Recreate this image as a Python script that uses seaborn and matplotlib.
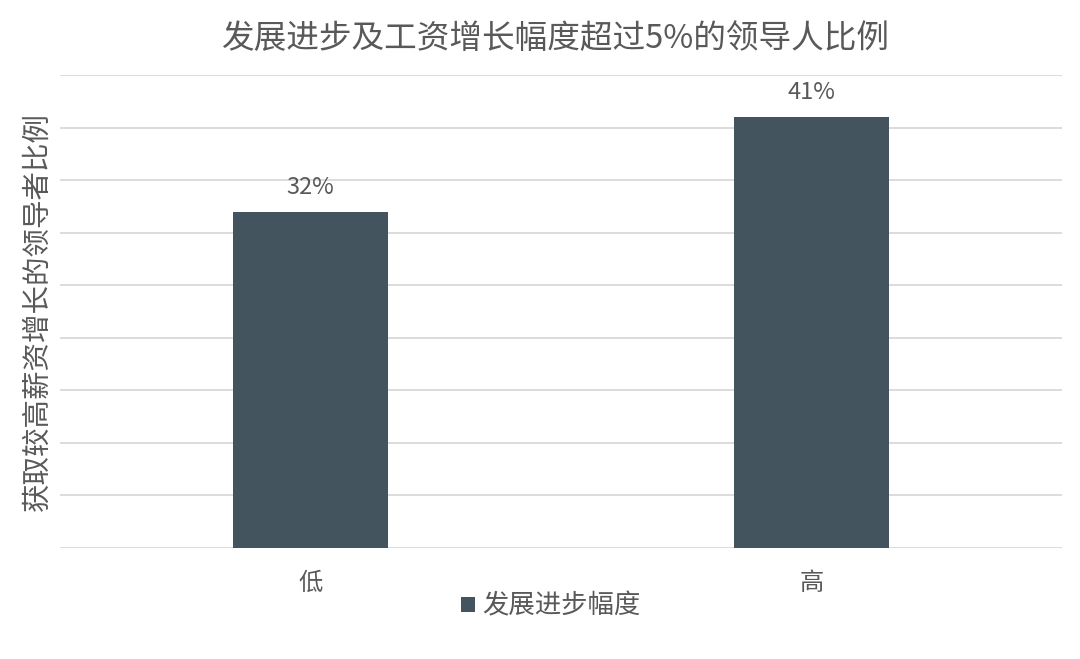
import matplotlib
matplotlib.use('Agg')
import matplotlib.pyplot as plt
import seaborn as sns
import pandas as pd
from matplotlib.patches import Patch

# chart data
categories = ['低', '高']
values = [32, 41]
series_name = '发展进步幅度'
title = '发展进步及工资增长幅度超过5%的领导人比例'
ylabel = '获取较高薪资增长的领导者比例'

bar_color = '#44545F'
text_color = '#595959'
grid_color = '#D9D9D9'

sns.set_theme(style='white')
plt.rcParams['font.family'] = ['Noto Sans CJK SC', 'DejaVu Sans']

df = pd.DataFrame({'level': categories, 'pct': values})

fig = plt.figure(figsize=(10.8, 6.59), dpi=100)
ax = fig.add_axes([60 / 1080, 1 - 548 / 659, 1002 / 1080, 473 / 659])

sns.barplot(data=df, x='level', y='pct', color=bar_color, width=0.31,
            saturation=1, linewidth=0, ax=ax, zorder=3)

ax.set_ylim(0, 45)
ax.set_xlim(-0.5, 1.5)
ax.set_yticks(range(0, 46, 5))
ax.yaxis.grid(True, color=grid_color, linewidth=1.3, zorder=0)
ax.set_yticklabels([])
ax.tick_params(axis='y', length=0)
ax.tick_params(axis='x', length=0, labelsize=17.5, labelcolor=text_color, pad=16)
for s in ax.spines.values():
    s.set_visible(False)

for i, v in enumerate(values):
    ax.text(i, v + 1.2, f'{v}%', ha='center', va='bottom', fontsize=17,
            color=text_color)

ax.set_xlabel('')
ax.set_ylabel(ylabel, fontsize=20.5, color=text_color, labelpad=2)
fig.suptitle(title, fontsize=23.5, color=text_color, x=555 / 1080, y=0.965)

handle = Patch(facecolor=bar_color, edgecolor='none')
fig.legend([handle], [series_name], loc='center', bbox_to_anchor=(551 / 1080, 1 - 606 / 659),
           frameon=False, fontsize=19, handlelength=0.5, handleheight=0.5,
           handletextpad=0.3, labelcolor=text_color)

fig.savefig('out.png', dpi=100, facecolor='white')
